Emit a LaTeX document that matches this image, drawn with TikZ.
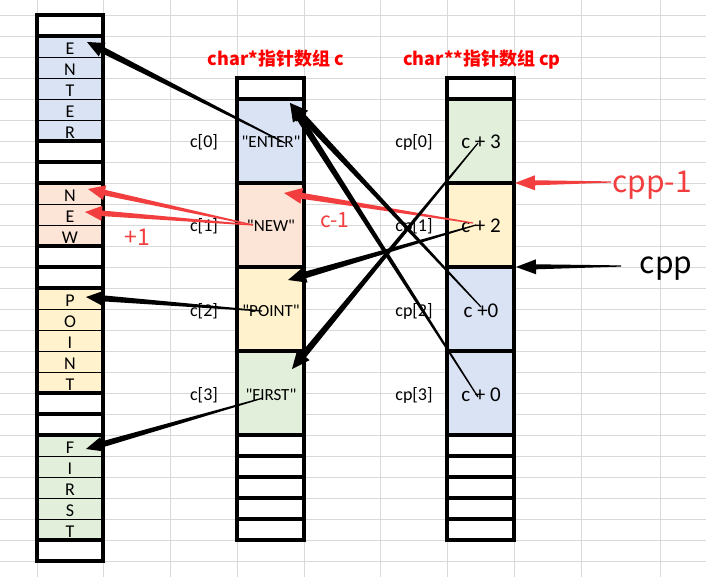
\documentclass[tikz,border=0pt]{standalone}
\usepackage{fontspec}
\setmainfont{Carlito}[Ligatures=TeXOff]
\newfontfamily\cjk{Noto Sans CJK SC}
\usetikzlibrary{calc}
\definecolor{gridgray}{RGB}{217,217,217}
\definecolor{cblue}{RGB}{218,227,243}
\definecolor{cpeach}{RGB}{252,228,214}
\definecolor{cyellow}{RGB}{255,242,204}
\definecolor{cgreen}{RGB}{226,239,218}
\definecolor{ared}{RGB}{242,62,62}
% tapered arrow: #1 colour, #2 tail, #3 tip, #4 half width at tail, #5 half width at head base, #6 head length, #7 head half width
\newcommand\tarrow[7]{%
  \coordinate (hb) at ($(#3)!#6!(#2)$);
  \fill[#1] ($(#2)!#4!90:(#3)$) -- ($(hb)!#5!90:(#3)$) -- ($(hb)!#7!90:(#3)$) -- (#3)
    -- ($(hb)!#7!-90:(#3)$) -- ($(hb)!#5!-90:(#3)$) -- ($(#2)!#4!-90:(#3)$) -- cycle;
}
\begin{document}
\begin{tikzpicture}[x=1pt,y=-1pt,
  gline/.style={draw=gridgray,line width=0.9pt},
  heavy/.style={line width=3.2pt,line cap=rect},
  light/.style={line width=0.8pt},
  letter/.style={font=\fontsize{18}{18}\selectfont,anchor=base,inner sep=0pt},
  mid/.style={font=\fontsize{17}{17}\selectfont,anchor=base,inner sep=0pt},
  lbl/.style={font=\fontsize{18}{18}\selectfont,anchor=base,inner sep=0pt},
  val/.style={font=\fontsize{21}{21}\selectfont,anchor=base,inner sep=0pt},
  ttl/.style={font=\cjk\bfseries\fontsize{18}{18}\selectfont,text=red,anchor=base,inner sep=0pt},
  big/.style={font=\cjk\fontsize{30}{30}\selectfont,anchor=base,inner sep=0pt},
  note/.style={font=\cjk\fontsize{21}{21}\selectfont,text=ared,anchor=base,inner sep=0pt},
]
\useasboundingbox (0,0) rectangle (706,577);
\fill[white] (0,0) rectangle (706,577);
% spreadsheet grid
\foreach \k in {0,...,26} \draw[gline] (0,{15+21*\k}) -- (706,{15+21*\k});
\foreach \x in {37,103,170,237,304,380,447,514,581,660} \draw[gline] (\x,0) -- (\x,577);
% column backgrounds
\fill[white] (37,15) rectangle (103,561);
\fill[white] (237,78) rectangle (304,540);
\fill[white] (447,78) rectangle (514,540);
% left column fills
\fill[cblue] (37,36) rectangle (103,141);
\fill[cpeach] (37,183) rectangle (103,246);
\fill[cyellow] (37,288) rectangle (103,393);
\fill[cgreen] (37,435) rectangle (103,540);
% middle column fills
\fill[cblue] (237,99) rectangle (304,183);
\fill[cpeach] (237,183) rectangle (304,267);
\fill[cyellow] (237,267) rectangle (304,351);
\fill[cgreen] (237,351) rectangle (304,435);
% right column fills
\fill[cgreen] (447,99) rectangle (514,183);
\fill[cyellow] (447,183) rectangle (514,267);
\fill[cblue] (447,267) rectangle (514,351);
\fill[cblue] (447,351) rectangle (514,435);
% left column lines
\foreach \y in {57,78,99,120,204,225,309,330,351,372,456,477,498,519}
  \draw[light] (37,\y) -- (103,\y);
\draw[heavy] (37,15) rectangle (103,561);
\foreach \y in {36,141,162,183,246,267,288,393,414,435,540}
  \draw[heavy] (37,\y) -- (103,\y);
% middle and right column lines
\foreach \cx in {237,447} {
  \draw[heavy] (\cx,78) rectangle (\cx+67,540);
  \foreach \y in {99,183,267,351,435,456,477,498,519}
    \draw[heavy] (\cx,\y) -- (\cx+67,\y);
}
% left column letters
\foreach \ch [count=\i from 1] in {E,N,T,E,R}
  \node[letter] (le\i) at (70,{15+21*\i+18.5}) {\ch};
\foreach \ch [count=\i from 8] in {N,E,W}
  \node[letter] (ln\i) at (70,{15+21*\i+18.5}) {\ch};
\foreach \ch [count=\i from 13] in {P,O,I,N,T}
  \node[letter] (lp\i) at (70,{15+21*\i+18.5}) {\ch};
\foreach \ch [count=\i from 20] in {F,I,R,S,T}
  \node[letter] (lf\i) at (70,{15+21*\i+18.5}) {\ch};
% titles
\node[ttl] (t1) at (276,66) {char*指针数组 c};
\node[ttl] (t2) at (482,66) {char**指针数组 cp};
% middle column
\foreach \s [count=\i from 0] in {ENTER,NEW,POINT,FIRST} {
  \node[lbl] (cl\i) at (204,{148+84*\i}) {c[\i]};
  \node[mid] (cv\i) at (271,{148+84*\i}) {"\s"};
}
% right column
\foreach \s [count=\i from 0] in {c + 3,c + 2,c +0,c + 0} {
  \node[lbl] (pl\i) at (414,{148+84*\i}) {cp[\i]};
  \node[val] (pv\i) at (481,{149+84*\i}) {\s};
}
% annotations
\node[big,text=ared] (cpm) at (652,193) {cpp-1};
\node[big] (cpp) at (666,273) {cpp};
\node[note] (cm1) at (335,228) {c-1};
\node[note,font=\cjk\fontsize{23}{23}\selectfont] (p1) at (137.5,246) {+1};
% arrow end points
\coordinate (tENTER) at (285,143);
\coordinate (hE) at (87,42);
\coordinate (tNEW) at (253,225);
\coordinate (hN) at (88,189);
\coordinate (hE2) at (85,212);
\coordinate (tPOINT) at (262,311);
\coordinate (hP) at (86,297);
\coordinate (tFIRST) at (263,398);
\coordinate (hF) at (86,449);
\coordinate (tc2a) at (473,223);
\coordinate (hNEWc) at (284,193);
\coordinate (tc2b) at (476,225);
\coordinate (hPOINTc) at (288,280);
\coordinate (tc3) at (478,143);
\coordinate (hFIRSTc) at (292,369);
\coordinate (tc0a) at (481,307);
\coordinate (tc0b) at (478,397);
\coordinate (hENTERc) at (290,103);
\coordinate (tcpm) at (611,182);
\coordinate (hcpm) at (515,183);
\coordinate (tcpp) at (621,266);
\coordinate (hcpp) at (516,267);
% arrows
\tarrow{black}{tENTER}{hE}{0.6pt}{3.2pt}{17pt}{7.5pt}
\tarrow{ared}{tNEW}{hN}{0.6pt}{2.8pt}{17pt}{7.5pt}
\tarrow{ared}{tNEW}{hE2}{0.6pt}{2.8pt}{17pt}{7.5pt}
\tarrow{black}{tPOINT}{hP}{0.6pt}{3pt}{17pt}{7.5pt}
\tarrow{black}{tFIRST}{hF}{0.6pt}{3pt}{17pt}{7.5pt}
\tarrow{ared}{tc2a}{hNEWc}{0.6pt}{3pt}{18pt}{8pt}
\tarrow{black}{tc2b}{hPOINTc}{0.6pt}{3.3pt}{18pt}{8pt}
\tarrow{black}{tc3}{hFIRSTc}{0.6pt}{3.3pt}{18pt}{8pt}
\tarrow{black}{tc0a}{hENTERc}{0.6pt}{3.3pt}{18pt}{8pt}
\tarrow{black}{tc0b}{hENTERc}{0.6pt}{3.3pt}{18pt}{8pt}
\tarrow{ared}{tcpm}{hcpm}{0.6pt}{2.5pt}{20pt}{7.5pt}
\tarrow{black}{tcpp}{hcpp}{0.6pt}{2.5pt}{20pt}{7.5pt}
\end{tikzpicture}
\end{document}
